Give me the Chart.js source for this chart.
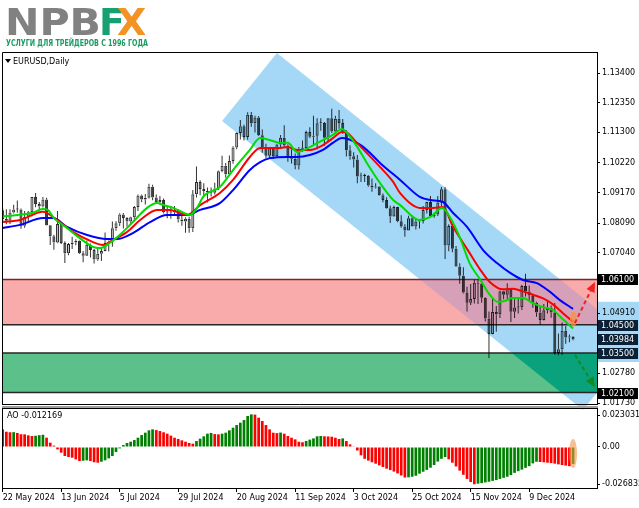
<!DOCTYPE html>
<html><head><meta charset="utf-8"><title>EURUSD Daily</title>
<script src="https://cdn.jsdelivr.net/npm/chart.js@4.4.1/dist/chart.umd.min.js"></script>
<style>
html,body{margin:0;padding:0;background:#fff;overflow:hidden}
#wrap{position:relative;width:639px;height:508px;background:#fff;overflow:hidden}
#wrap canvas{position:absolute;left:0;top:0}
.lg{position:absolute;white-space:nowrap;line-height:1;font-family:"DejaVu Sans",sans-serif;font-weight:bold;transform-origin:0 0}
</style></head><body>
<div id="wrap">
<canvas id="main" width="639" height="508"></canvas>
<canvas id="osc" width="639" height="508"></canvas>
<div class="lg" id="lgNPB" style="left:5px;top:3px;font-size:38px;color:#818181">NPB</div>
<div class="lg" id="lgF" style="left:99px;top:3px;font-size:38px;color:#17a071">F</div>
<div class="lg" id="lgX" style="left:117px;top:3px;font-size:38px;color:#f39325">X</div>
<div class="lg" id="lgSub" style="left:6px;top:39px;font-size:9px;color:#1b9a63">УСЛУГИ ДЛЯ ТРЕЙДЕРОВ С 1996 ГОДА</div>
</div>
<script>
// ---------- DATA ----------
const dateTicks = [0,16,32,48,64,80,96,112,128,144];
const dateLabels = ['22 May 2024','13 Jun 2024','5 Jul 2024','29 Jul 2024','20 Aug 2024','11 Sep 2024','3 Oct 2024','25 Oct 2024','15 Nov 2024','9 Dec 2024'];

const open = [
1.0855,1.0824,1.0818,1.0847,1.0857,1.0857,1.0800,1.0831,1.0848,1.0902,
1.0877,1.0868,1.0893,1.0802,1.0763,1.0741,1.0806,1.0739,1.0703,1.0735,
1.0741,1.0747,1.0703,1.0694,1.0733,1.0714,1.0681,1.0701,1.0711,1.0739,
1.0743,1.0791,1.0809,1.0840,1.0827,1.0815,1.0830,1.0866,1.0907,1.0893,
1.0899,1.0938,1.0900,1.0883,1.0891,1.0848,1.0847,1.0848,1.0856,1.0822,
1.0815,1.0825,1.0791,1.0911,1.0955,1.0930,1.0923,1.0918,1.0917,1.0932,
1.0993,1.1012,1.0982,1.1029,1.1077,1.1128,1.1152,1.1114,1.1192,1.1162,
1.1183,1.1120,1.1077,1.1047,1.1074,1.1046,1.1087,1.1111,1.1084,1.1040,
1.1037,1.1013,1.1072,1.1075,1.1131,1.1115,1.1118,1.1162,1.1163,1.1111,
1.1180,1.1133,1.1178,1.1163,1.1133,1.1067,1.1046,1.1034,1.0974,1.0976,
1.0977,1.0942,1.0935,1.0939,1.0908,1.0891,1.0862,1.0833,1.0866,1.0816,
1.0797,1.0783,1.0826,1.0797,1.0815,1.0817,1.0856,1.0884,1.0834,1.0840,
1.0882,1.0929,1.0730,1.0799,1.0719,1.0656,1.0623,1.0564,1.0528,1.0541,
1.0598,1.0595,1.0545,1.0472,1.0417,1.0495,1.0487,1.0568,1.0556,1.0577,
1.0496,1.0511,1.0512,1.0587,1.0567,1.0553,1.0528,1.0493,1.0467,1.0501,
1.0510,1.0493,1.0350,1.0363,1.0429,1.0405,1.0407];
const high = [
1.0861,1.0858,1.0858,1.0874,1.0889,1.0861,1.0852,1.0852,1.0902,1.0916,
1.0884,1.0902,1.0899,1.0802,1.0768,1.0852,1.0813,1.0745,1.0739,1.0761,
1.0752,1.0749,1.0711,1.0748,1.0737,1.0719,1.0721,1.0720,1.0776,1.0748,
1.0815,1.0816,1.0844,1.0845,1.0830,1.0832,1.0870,1.0910,1.0910,1.0912,
1.0948,1.0945,1.0910,1.0905,1.0896,1.0866,1.0869,1.0870,1.0858,1.0835,
1.0830,1.0832,1.0926,1.1009,1.0961,1.0950,1.0935,1.0935,1.0952,1.0995,
1.1047,1.1022,1.1048,1.1081,1.1130,1.1174,1.1157,1.1201,1.1202,1.1189,
1.1188,1.1140,1.1090,1.1075,1.1077,1.1090,1.1121,1.1155,1.1088,1.1070,
1.1055,1.1078,1.1101,1.1136,1.1148,1.1189,1.1180,1.1180,1.1167,1.1181,
1.1214,1.1189,1.1209,1.1177,1.1138,1.1085,1.1060,1.1050,1.0987,1.0984,
1.0979,1.0967,1.0950,1.0940,1.0914,1.0901,1.0871,1.0871,1.0867,1.0837,
1.0805,1.0835,1.0836,1.0825,1.0823,1.0870,1.0885,1.0905,1.0845,1.0905,
1.0937,1.0937,1.0805,1.0803,1.0728,1.0667,1.0653,1.0584,1.0594,1.0609,
1.0610,1.0603,1.0547,1.0497,1.0544,1.0516,1.0570,1.0570,1.0597,1.0580,
1.0540,1.0544,1.0590,1.0630,1.0589,1.0556,1.0531,1.0516,1.0523,1.0535,
1.0518,1.0527,1.0419,1.0458,1.0445,1.0415,1.0410];
const low = [
1.0817,1.0805,1.0806,1.0843,1.0846,1.0789,1.0793,1.0812,1.0833,1.0865,
1.0856,1.0864,1.0801,1.0732,1.0715,1.0738,1.0735,1.0668,1.0696,1.0718,
1.0731,1.0700,1.0671,1.0693,1.0688,1.0666,1.0676,1.0675,1.0710,1.0709,
1.0726,1.0782,1.0799,1.0790,1.0796,1.0803,1.0816,1.0852,1.0883,1.0875,
1.0896,1.0890,1.0880,1.0875,1.0843,1.0826,1.0825,1.0840,1.0811,1.0800,
1.0775,1.0775,1.0778,1.0900,1.0908,1.0902,1.0882,1.0903,1.0910,1.0926,
1.0989,1.0970,1.0976,1.1019,1.1070,1.1105,1.1101,1.1104,1.1150,1.1130,
1.1117,1.1058,1.1039,1.1040,1.1036,1.1045,1.1078,1.1076,1.1026,1.1020,
1.1000,1.0999,1.1062,1.1065,1.1110,1.1087,1.1070,1.1136,1.1083,1.1095,
1.1128,1.1125,1.1143,1.1125,1.1045,1.1033,1.1006,1.0950,1.0955,1.0955,
1.0938,1.0920,1.0932,1.0906,1.0883,1.0860,1.0810,1.0832,1.0812,1.0793,
1.0761,1.0783,1.0797,1.0787,1.0790,1.0808,1.0843,1.0834,1.0828,1.0834,
1.0870,1.0682,1.0710,1.0706,1.0655,1.0595,1.0560,1.0497,1.0520,1.0525,
1.0523,1.0528,1.0461,1.0332,1.0416,1.0425,1.0474,1.0540,1.0541,1.0460,
1.0474,1.0490,1.0502,1.0550,1.0535,1.0510,1.0478,1.0450,1.0465,1.0490,
1.0475,1.0344,1.0342,1.0343,1.0383,1.0388,1.0395];
const close = [
1.0824,1.0818,1.0847,1.0857,1.0857,1.0800,1.0831,1.0848,1.0902,1.0877,
1.0868,1.0893,1.0802,1.0763,1.0741,1.0806,1.0739,1.0703,1.0735,1.0741,
1.0747,1.0703,1.0694,1.0733,1.0714,1.0681,1.0701,1.0711,1.0739,1.0743,
1.0791,1.0809,1.0840,1.0827,1.0815,1.0830,1.0866,1.0907,1.0893,1.0899,
1.0938,1.0900,1.0883,1.0891,1.0848,1.0847,1.0848,1.0856,1.0822,1.0815,
1.0825,1.0791,1.0911,1.0955,1.0930,1.0923,1.0918,1.0917,1.0932,1.0993,
1.1012,1.0982,1.1029,1.1077,1.1128,1.1152,1.1114,1.1192,1.1162,1.1183,
1.1120,1.1077,1.1047,1.1074,1.1046,1.1087,1.1111,1.1084,1.1040,1.1037,
1.1013,1.1072,1.1075,1.1131,1.1115,1.1118,1.1162,1.1163,1.1111,1.1180,
1.1133,1.1178,1.1163,1.1133,1.1067,1.1046,1.1034,1.0974,1.0976,1.0977,
1.0942,1.0935,1.0939,1.0908,1.0891,1.0862,1.0833,1.0866,1.0816,1.0797,
1.0783,1.0826,1.0797,1.0815,1.0817,1.0856,1.0884,1.0834,1.0840,1.0882,
1.0929,1.0730,1.0799,1.0719,1.0656,1.0623,1.0564,1.0528,1.0541,1.0598,
1.0595,1.0545,1.0472,1.0417,1.0495,1.0487,1.0568,1.0556,1.0577,1.0496,
1.0511,1.0512,1.0587,1.0567,1.0553,1.0528,1.0493,1.0467,1.0501,1.0510,
1.0493,1.0350,1.0363,1.0429,1.0405,1.0407,1.0398];

// moving averages: [bar index, price]
const maGreen = [[0,1.0832],[4,1.0838],[8,1.0845],[11,1.0859],[12.3,1.0856],[14,1.0827],[17.6,1.0792],[21,1.0757],[24.7,1.0725],[26.6,1.0721],[29.3,1.0739],[32,1.0767],[35.6,1.0813],[39.5,1.0863],[42.2,1.0880],[44,1.0873],[46.6,1.0863],[49,1.0849],[51.2,1.0838],[53,1.0860],[55,1.0905],[59.4,1.0937],[63,1.0997],[67.6,1.1068],[70.4,1.1110],[73,1.1103],[76,1.1093],[78,1.1093],[80.5,1.1061],[84,1.1078],[87.6,1.1103],[90.3,1.1121],[92.8,1.1142],[94.2,1.1128],[97,1.1078],[99.6,1.1022],[103.2,1.0951],[106.8,1.0891],[108.7,1.0873],[114,1.0820],[117,1.0831],[120.2,1.0863],[122.3,1.0831],[125,1.0760],[127.8,1.0665],[130.6,1.0610],[133,1.0560],[135.5,1.0530],[137.5,1.0535],[139.6,1.0544],[142.3,1.0544],[145,1.0526],[147.8,1.0512],[150.5,1.0502],[153.3,1.0468],[156,1.0437]];
const maRed = [[0,1.0813],[4.7,1.0820],[11,1.0849],[14.9,1.0820],[19.2,1.0778],[24.7,1.0742],[27.4,1.0732],[30.2,1.0750],[34,1.0778],[37.6,1.0820],[42.2,1.0856],[45.8,1.0856],[50.4,1.0838],[54,1.0873],[59.4,1.0916],[63,1.0962],[67.6,1.1043],[70.4,1.1075],[73.1,1.1075],[75.9,1.1075],[77.8,1.1078],[80.5,1.1068],[84,1.1068],[87.6,1.1085],[90.3,1.1110],[92.8,1.1131],[94.2,1.1128],[96.9,1.1093],[99.6,1.1057],[103.2,1.1008],[106.8,1.0955],[108.7,1.0915],[114.1,1.0863],[117.7,1.0863],[120.4,1.0866],[123.2,1.0796],[127.3,1.0712],[130.6,1.0645],[133.3,1.0600],[136.8,1.0575],[139.6,1.0577],[142.3,1.0568],[145,1.0556],[147.8,1.0543],[150.5,1.0522],[153.3,1.0490],[156,1.0460]];
const maBlue = [[0,1.0792],[4.7,1.0803],[11,1.0827],[13.8,1.0827],[17.6,1.0796],[23.1,1.0767],[28.5,1.0753],[31.3,1.0753],[35.6,1.0774],[40.3,1.0813],[44.9,1.0838],[50.4,1.0838],[54,1.0856],[59.4,1.0880],[63,1.0926],[67.6,1.0997],[70.4,1.1025],[73.1,1.1039],[77.8,1.1043],[80.5,1.1043],[84,1.1050],[87.6,1.1068],[90.3,1.1093],[92.8,1.1110],[96.9,1.1093],[99.6,1.1068],[103.2,1.1022],[108.7,1.0962],[114.1,1.0902],[116.9,1.0891],[120.4,1.0884],[123.2,1.0845],[127,1.0796],[131.4,1.0714],[135.2,1.0668],[138.8,1.0633],[142.3,1.0608],[146.1,1.0597],[149.7,1.0566],[152.4,1.0537],[156,1.0506]];

// Awesome Oscillator values
const aoValues = [
0.0127,0.0110,0.0106,0.0107,0.0101,0.0092,0.0091,0.0084,0.0079,0.0081,
0.0085,0.0088,0.0067,0.0031,0.0010,-0.0017,-0.0041,-0.0065,-0.0072,-0.0077,
-0.0089,-0.0101,-0.0099,-0.0096,-0.0101,-0.0110,-0.0113,-0.0106,-0.0096,-0.0082,
-0.0065,-0.0036,-0.0010,0.0014,0.0029,0.0038,0.0050,0.0067,0.0086,0.0103,
0.0120,0.0127,0.0122,0.0115,0.0106,0.0096,0.0082,0.0067,0.0058,0.0048,
0.0038,0.0029,0.0024,0.0043,0.0060,0.0077,0.0096,0.0101,0.0093,0.0091,
0.0096,0.0103,0.0120,0.0139,0.0158,0.0175,0.0194,0.0223,0.0235,0.0233,
0.0211,0.0187,0.0158,0.0127,0.0103,0.0100,0.0104,0.0096,0.0079,0.0067,
0.0055,0.0038,0.0034,0.0043,0.0053,0.0062,0.0077,0.0079,0.0077,0.0076,
0.0074,0.0067,0.0058,0.0062,0.0043,0.0019,0.0005,-0.0025,-0.0060,-0.0085,
-0.0098,-0.0110,-0.0120,-0.0132,-0.0144,-0.0156,-0.0166,-0.0177,-0.0190,-0.0205,
-0.0220,-0.0218,-0.0214,-0.0207,-0.0192,-0.0178,-0.0165,-0.0149,-0.0130,-0.0105,
-0.0085,-0.0072,-0.0089,-0.0113,-0.0140,-0.0170,-0.0200,-0.0230,-0.0252,-0.0268,
-0.0264,-0.0260,-0.0255,-0.0250,-0.0244,-0.0238,-0.0230,-0.0222,-0.0214,-0.0202,
-0.0186,-0.0174,-0.0163,-0.0150,-0.0138,-0.0118,-0.0106,-0.0108,-0.0110,-0.0113,
-0.0116,-0.0120,-0.0125,-0.0130,-0.0134,-0.0138,-0.012169];

const priceTicks = [1.134,1.1235,1.113,1.1022,1.0917,1.0809,1.0704,1.0596,1.0491,1.0385,1.0278,1.0173];
const levelLabels = [1.061,1.045,1.03984,1.035,1.021];
const aoTicks = [0.023031,0,-0.026835];
const resistZone = [1.045,1.061];
const supportZone = [1.021,1.035];
const channelCorners = [[60.0,1.11703],[75.0,1.14107],[173.8,1.03888],[158.7,1.01484]];
const channelAxisBand = [1.0318,1.0531];
const arrowUp = [[156.5,1.0456],[162.0,1.0601]];
const arrowDown = [[156.5,1.0343],[162.0,1.0229]];
const markMain = [156.1,1.0443,1.0497];
const markAO = [156.0,-0.0151,0.0058];

// ---------- RENDER ----------
Chart.defaults.font.family = '"DejaVu Sans", sans-serif';
Chart.defaults.font.size = 8;
Chart.defaults.color = '#000';

const X_MIN = -0.19, X_MAX = 162.55;
const P_MIN = 1.01696, P_MAX = 1.14143;
const AO_MIN = -0.02951, AO_MAX = 0.02807;
const FONT = '8px "DejaVu Sans", sans-serif';
const CHANNEL_COLOR = '#a4d8f6';

const bodyData = close.map((c,i)=>({x:i,y:[open[i],c]}));
const upWick = close.map((c,i)=>({x:i,y:[Math.max(open[i],c),high[i]]}));
const loWick = close.map((c,i)=>({x:i,y:[low[i],Math.min(open[i],c)]}));
const bodyFill = close.map((c,i)=> c>=open[i] ? 'rgba(0,0,0,0.25)' : 'rgba(0,0,0,0.8)');
const pairs = a => a.map(([x,y])=>({x,y}));

function drawArrow(ctx,x1,y1,x2,y2,color){
  const ang = Math.atan2(y2-y1,x2-x1), hl = 10, hw = 4.5;
  const bx = x2-Math.cos(ang)*hl, by = y2-Math.sin(ang)*hl;
  ctx.save();
  ctx.strokeStyle=color; ctx.lineWidth=2; ctx.setLineDash([4,3]);
  ctx.beginPath(); ctx.moveTo(x1,y1); ctx.lineTo(bx,by); ctx.stroke();
  ctx.setLineDash([]); ctx.fillStyle=color;
  ctx.beginPath(); ctx.moveTo(x2,y2);
  ctx.lineTo(bx+Math.sin(ang)*hw, by-Math.cos(ang)*hw);
  ctx.lineTo(bx-Math.sin(ang)*hw, by+Math.cos(ang)*hw);
  ctx.closePath(); ctx.fill();
  ctx.restore();
}

const mainDecor = {
  id:'mainDecor',
  beforeDatasetsDraw(chart){
    const {ctx,chartArea:a,scales:{x,y}} = chart;
    const ch = new Path2D();
    channelCorners.forEach(([i,v],k)=>{const px=x.getPixelForValue(i),py=y.getPixelForValue(v); k?ch.lineTo(px,py):ch.moveTo(px,py);});
    ch.closePath();
    ctx.save();
    ctx.beginPath(); ctx.rect(a.left,a.top,a.right-a.left,a.bottom-a.top+9); ctx.clip();
    ctx.fillStyle=CHANNEL_COLOR; ctx.fill(ch);
    ctx.restore();
    ctx.save();
    ctx.beginPath(); ctx.rect(a.left,a.top,a.right-a.left,a.bottom-a.top); ctx.clip();
    const zones = [{z:resistZone,fill:'#f9abab',mix:'#d6a1b8'},{z:supportZone,fill:'#5bc08a',mix:'#0aa27c'}];
    zones.forEach(o=>{
      const y1=y.getPixelForValue(o.z[1]), y2=y.getPixelForValue(o.z[0]);
      ctx.fillStyle=o.fill; ctx.fillRect(a.left,y1,a.right-a.left,y2-y1);
      ctx.save(); ctx.clip(ch); ctx.fillStyle=o.mix; ctx.fillRect(a.left,y1,a.right-a.left,y2-y1); ctx.restore();
    });
    const lines = [[resistZone[1],'#7d2424'],[resistZone[0],'#262626'],[supportZone[1],'#262626'],[supportZone[0],'#262626']];
    ctx.lineWidth=1.5;
    lines.forEach(([v,c])=>{const yy=y.getPixelForValue(v); ctx.strokeStyle=c; ctx.beginPath(); ctx.moveTo(a.left,yy); ctx.lineTo(a.right,yy); ctx.stroke();});
    ctx.restore();
  },
  afterDatasetsDraw(chart){
    const {ctx,chartArea:a,scales:{x,y}} = chart;
    ctx.save();
    ctx.beginPath(); ctx.rect(a.left,a.top,a.right-a.left,a.bottom-a.top); ctx.clip();
    const cx=x.getPixelForValue(markMain[0]), y1=y.getPixelForValue(markMain[2]), y2=y.getPixelForValue(markMain[1]);
    ctx.fillStyle='rgba(247,146,70,0.75)';
    ctx.beginPath(); ctx.ellipse(cx,(y1+y2)/2,3.5,(y2-y1)/2,0,0,Math.PI*2); ctx.fill();
    drawArrow(ctx,x.getPixelForValue(arrowUp[0][0]),y.getPixelForValue(arrowUp[0][1]),x.getPixelForValue(arrowUp[1][0]),y.getPixelForValue(arrowUp[1][1]),'#f42020');
    drawArrow(ctx,x.getPixelForValue(arrowDown[0][0]),y.getPixelForValue(arrowDown[0][1]),x.getPixelForValue(arrowDown[1][0]),y.getPixelForValue(arrowDown[1][1]),'#128a1e');
    ctx.restore();
  },
  afterDraw(chart){
    const {ctx,chartArea:a,scales:{y}} = chart;
    ctx.save();
    // light band of the channel continuing into the price scale
    const b1=y.getPixelForValue(channelAxisBand[1]), b2=y.getPixelForValue(channelAxisBand[0]);
    ctx.globalCompositeOperation='destination-over';
    ctx.fillStyle=CHANNEL_COLOR; ctx.fillRect(a.right+1,b1,chart.width-a.right-1,b2-b1);
    ctx.globalCompositeOperation='source-over';
    ctx.strokeStyle='#000'; ctx.lineWidth=1;
    ctx.beginPath();
    ctx.moveTo(a.left+0.5,a.top+0.5); ctx.lineTo(a.right+0.5,a.top+0.5);
    ctx.moveTo(a.left+0.5,a.top+0.5); ctx.lineTo(a.left+0.5,a.bottom+0.5);
    ctx.moveTo(a.left,a.bottom+0.5); ctx.lineTo(a.right+0.5,a.bottom+0.5);
    ctx.moveTo(a.right+0.5,a.top); ctx.lineTo(a.right+0.5,a.bottom);
    ctx.stroke();
    ctx.fillStyle='#a0a0a0'; ctx.fillRect(a.left,a.bottom+2,a.right-a.left+1,2);
    // title
    ctx.fillStyle='#000';
    ctx.beginPath(); ctx.moveTo(a.left+3,a.top+7); ctx.lineTo(a.left+9,a.top+7); ctx.lineTo(a.left+6,a.top+11); ctx.closePath(); ctx.fill();
    ctx.font=FONT; ctx.textBaseline='middle'; ctx.textAlign='left';
    ctx.fillText('EURUSD,Daily',a.left+11,a.top+9.5);
    // level price boxes
    const boxCol = ['#000000','#0b2035','#0b2035','#0b2035','#000000'];
    levelLabels.forEach((v,k)=>{
      const yy=Math.round(y.getPixelForValue(v));
      ctx.fillStyle=boxCol[k]; ctx.fillRect(a.right+1,yy-5,40,11);
      ctx.fillStyle='#fff'; ctx.fillText(v.toFixed(5),a.right+4,yy+0.5);
    });
    ctx.restore();
  }
};

new Chart(document.getElementById('main'),{
  type:'bar',
  data:{datasets:[
    {type:'line',label:'MA fast',data:pairs(maGreen),borderColor:'#00dc00',borderWidth:2,pointRadius:0,cubicInterpolationMode:'monotone',order:0},
    {type:'line',label:'MA mid',data:pairs(maRed),borderColor:'#ff0000',borderWidth:2,pointRadius:0,cubicInterpolationMode:'monotone',order:0},
    {type:'line',label:'MA slow',data:pairs(maBlue),borderColor:'#0000ff',borderWidth:2,pointRadius:0,cubicInterpolationMode:'monotone',order:0},
    {label:'body',data:bodyData,backgroundColor:bodyFill,borderColor:'rgba(0,0,0,0.85)',borderWidth:1,borderSkipped:false,barThickness:3,minBarLength:1,grouped:false,inflateAmount:0,order:4},
    {label:'upper wick',data:upWick,backgroundColor:'rgba(0,0,0,0.8)',barThickness:1,grouped:false,inflateAmount:0,order:5},
    {label:'lower wick',data:loWick,backgroundColor:'rgba(0,0,0,0.8)',barThickness:1,grouped:false,inflateAmount:0,order:5}
  ]},
  options:{
    responsive:false,animation:false,events:[],
    layout:{padding:{left:2,top:52,right:0,bottom:104}},
    plugins:{legend:{display:false},tooltip:{enabled:false}},
    scales:{
      x:{type:'linear',min:X_MIN,max:X_MAX,offset:false,display:false,grid:{offset:false}},
      y:{type:'linear',position:'right',min:P_MIN,max:P_MAX,
        afterBuildTicks:s=>{s.ticks=priceTicks.map(v=>({value:v}));},
        afterFit:s=>{s.width=42;s.paddingTop=0;s.paddingBottom=0;},
        ticks:{callback:v=>Number(v).toFixed(5),autoSkip:false,padding:2,color:'#000',font:{size:8}},
        grid:{drawOnChartArea:false,drawTicks:true,tickLength:3,color:'#000'},
        border:{display:true,color:'#000'}}
    }
  },
  plugins:[mainDecor]
});

const aoColors = aoValues.map((v,i)=> (i>0 && v>aoValues[i-1]) ? '#008000' : '#ff0000');
const aoDecor = {
  id:'aoDecor',
  afterDatasetsDraw(chart){
    const {ctx,scales:{x,y}} = chart;
    const cx=x.getPixelForValue(markAO[0]), y1=y.getPixelForValue(markAO[2]), y2=y.getPixelForValue(markAO[1]);
    ctx.save(); ctx.fillStyle='rgba(247,146,70,0.6)';
    ctx.beginPath(); ctx.ellipse(cx,(y1+y2)/2,4,(y2-y1)/2,0,0,Math.PI*2); ctx.fill(); ctx.restore();
  },
  afterDraw(chart){
    const {ctx,chartArea:a} = chart;
    ctx.save(); ctx.strokeStyle='#000'; ctx.lineWidth=1;
    ctx.beginPath();
    ctx.moveTo(a.left+0.5,a.top+0.5); ctx.lineTo(a.right+0.5,a.top+0.5);
    ctx.moveTo(a.left+0.5,a.top); ctx.lineTo(a.left+0.5,a.bottom+0.5);
    ctx.stroke();
    ctx.fillStyle='#000'; ctx.font=FONT; ctx.textBaseline='middle'; ctx.textAlign='left';
    ctx.fillText('AO '+aoValues[aoValues.length-1].toFixed(6),a.left+5,a.top+8);
    ctx.restore();
  }
};

new Chart(document.getElementById('osc'),{
  type:'bar',
  data:{datasets:[{label:'AO',data:aoValues.map((v,i)=>({x:i,y:v})),backgroundColor:aoColors,barThickness:2.7,inflateAmount:0,grouped:false}]},
  options:{
    responsive:false,animation:false,events:[],
    layout:{padding:{left:2,top:408,right:0,bottom:0}},
    plugins:{legend:{display:false},tooltip:{enabled:false}},
    scales:{
      x:{type:'linear',min:X_MIN,max:X_MAX,offset:false,
        afterBuildTicks:s=>{s.ticks=dateTicks.map(v=>({value:v}));},
        afterFit:s=>{s.height=20;s.paddingLeft=0;s.paddingRight=0;},
        ticks:{callback:v=>dateLabels[dateTicks.indexOf(v)],align:'start',maxRotation:0,minRotation:0,autoSkip:false,padding:1,color:'#000',font:{size:8}},
        grid:{offset:false,drawOnChartArea:false,drawTicks:true,tickLength:4,color:'#000'},
        border:{display:true,color:'#000'}},
      y:{type:'linear',position:'right',min:AO_MIN,max:AO_MAX,
        afterBuildTicks:s=>{s.ticks=aoTicks.map(v=>({value:v}));},
        afterFit:s=>{s.width=42;s.paddingTop=0;s.paddingBottom=0;},
        ticks:{callback:v=> v===0 ? '0.00' : Number(v).toFixed(6),autoSkip:false,padding:2,color:'#000',font:{size:8}},
        grid:{drawOnChartArea:false,drawTicks:true,tickLength:3,color:'#000'},
        border:{display:true,color:'#000'}}
    }
  },
  plugins:[aoDecor]
});

// logo text fitting
function fitW(id,w){const el=document.getElementById(id);const r=el.getBoundingClientRect().width;if(r>0)el.style.transform='scaleX('+(w/r)+')';}
fitW('lgNPB',96); fitW('lgSub',142);
</script>
</body></html>
